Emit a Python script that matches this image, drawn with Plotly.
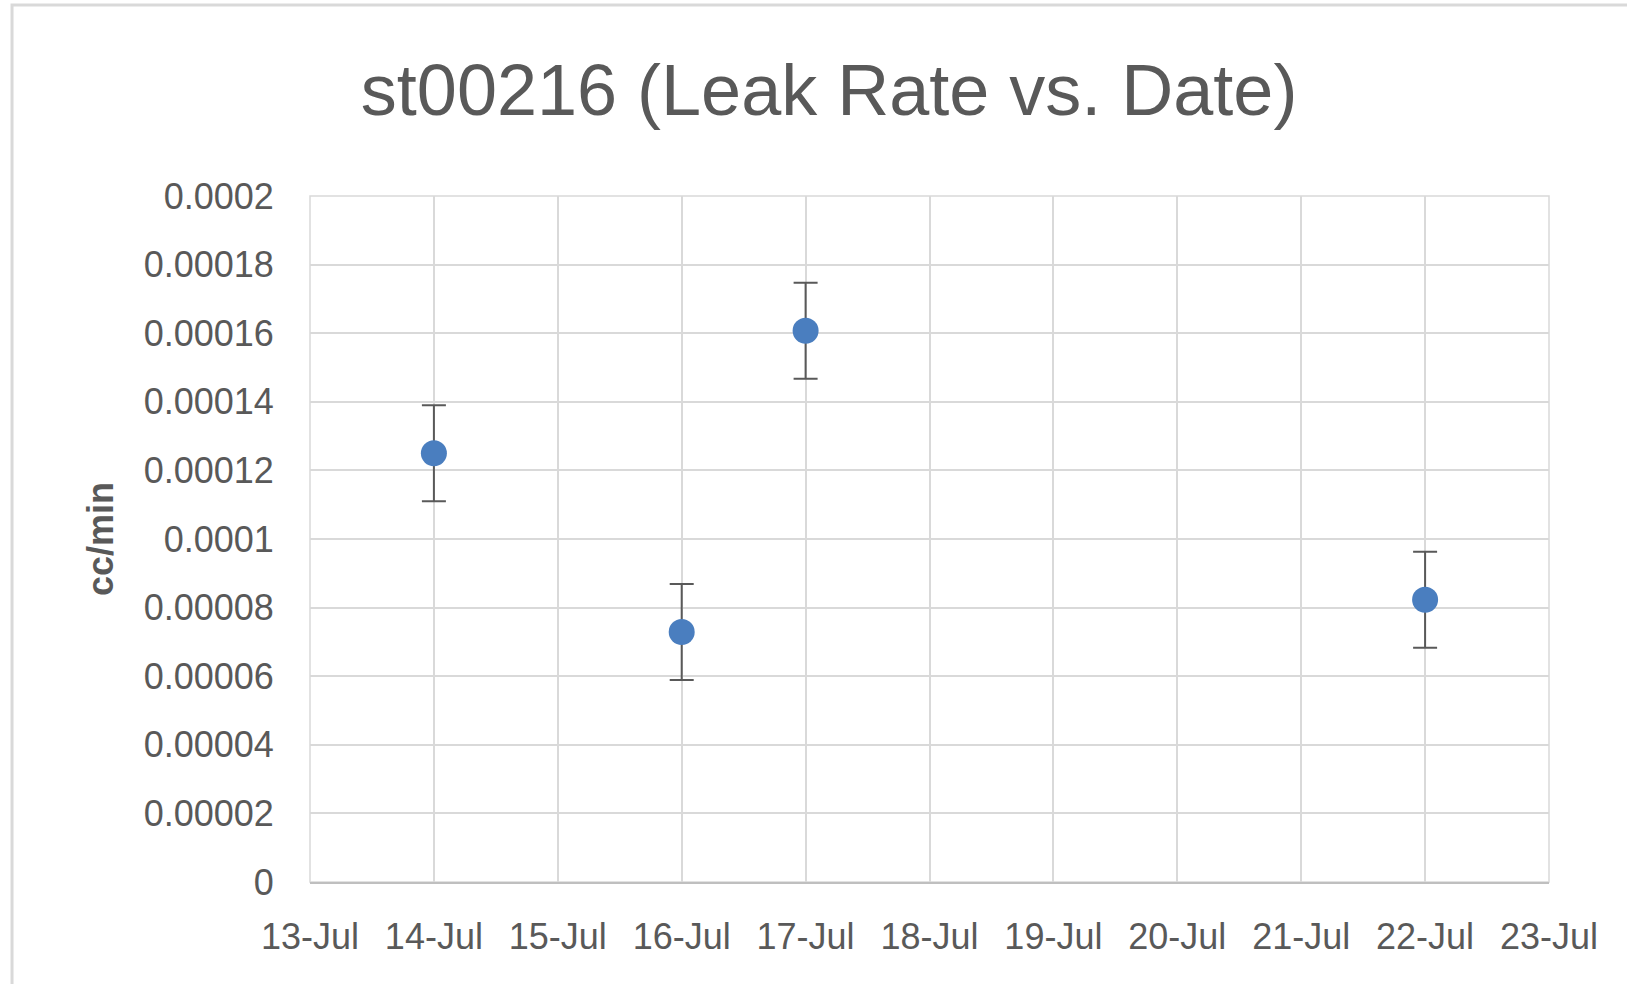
import plotly.graph_objects as go

dates = ["2016-07-14", "2016-07-16", "2016-07-17", "2016-07-22"]
leak_rate = [0.000125, 0.0000729, 0.0001607, 0.0000823]
leak_err = [0.000014, 0.000014, 0.000014, 0.000014]

x_tick_vals = ["2016-07-13", "2016-07-14", "2016-07-15", "2016-07-16", "2016-07-17", "2016-07-18",
               "2016-07-19", "2016-07-20", "2016-07-21", "2016-07-22", "2016-07-23"]
x_tick_labels = ["13-Jul", "14-Jul", "15-Jul", "16-Jul", "17-Jul", "18-Jul",
                 "19-Jul", "20-Jul", "21-Jul", "22-Jul", "23-Jul"]
y_tick_vals = [0, 0.00002, 0.00004, 0.00006, 0.00008, 0.0001, 0.00012, 0.00014, 0.00016, 0.00018, 0.0002]
y_tick_labels = ["0", "0.00002", "0.00004", "0.00006", "0.00008", "0.0001", "0.00012", "0.00014",
                 "0.00016", "0.00018", "0.0002"]

FONT = "Liberation Sans, Arial, sans-serif"
GRAY = "#595959"

fig = go.Figure()
fig.add_trace(go.Scatter(
    x=dates, y=leak_rate, mode="markers",
    marker=dict(color="#4a7ebf", size=26),
    error_y=dict(type="data", array=leak_err, visible=True, color="#595959", thickness=2, width=12),
    showlegend=False,
))

fig.update_layout(
    width=1627, height=984,
    margin=dict(l=310, r=78, t=196, b=102),
    paper_bgcolor="white", plot_bgcolor="white",
    font=dict(family=FONT, color=GRAY, size=36),
    title=dict(text="st00216 (Leak Rate vs. Date)", x=0.5096, xanchor="center",
               y=0.9085, yanchor="middle", yref="container",
               font=dict(family=FONT, size=72, color=GRAY)),
    xaxis=dict(type="date", range=["2016-07-13", "2016-07-23"],
               tickvals=x_tick_vals, ticktext=x_tick_labels,
               showgrid=True, gridcolor="#d9d9d9", gridwidth=1.5,
               showline=True, linecolor="#bfbfbf", linewidth=2,
               ticks="outside", ticklen=22, tickcolor="rgba(0,0,0,0)",
               tickfont=dict(size=36, color=GRAY), zeroline=False),
    yaxis=dict(range=[0, 0.0002], tickvals=y_tick_vals, ticktext=y_tick_labels,
               showgrid=True, gridcolor="#d9d9d9", gridwidth=1.5,
               showline=False, zeroline=False,
               ticks="outside", ticklen=28, tickcolor="rgba(0,0,0,0)",
               tickfont=dict(size=36, color=GRAY)),
    annotations=[dict(text="<b>cc/min</b>", xref="paper", yref="paper", x=-0.1695, y=0.5,
                      xanchor="center", yanchor="middle", textangle=-90, showarrow=False,
                      font=dict(family=FONT, size=36, color=GRAY))],
    shapes=[
        dict(type="rect", xref="paper", yref="paper", x0=-0.2405, y0=-0.3, x1=1.2, y1=1.2784,
             line=dict(color="#d9d9d9", width=3), layer="below"),
        dict(type="rect", xref="paper", yref="paper", x0=0, y0=0, x1=1, y1=1,
             line=dict(color="#d9d9d9", width=1.5), layer="below"),
    ],
)

fig.write_html("out.html", config={"displayModeBar": False},
               post_script="document.body.style.margin='0px';")
